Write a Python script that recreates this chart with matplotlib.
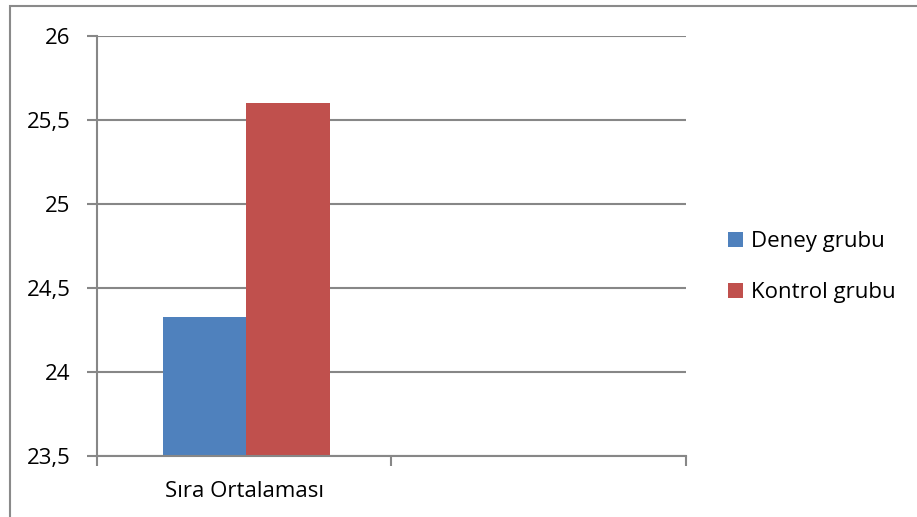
import numpy as np
import matplotlib.pyplot as plt
from matplotlib.patches import Rectangle

categories = ['Sıra Ortalaması', '']
deney = [24.33, np.nan]
kontrol = [25.60, np.nan]
series_names = ['Deney grubu', 'Kontrol grubu']
yticks = [23.5, 24, 24.5, 25, 25.5, 26]

plt.rcParams['font.family'] = ['Open Sans', 'DejaVu Sans']

fig = plt.figure(figsize=(9.17, 5.17), dpi=100)
ax = fig.add_axes([0.1058, 0.118, 0.748 - 0.1058, 0.9304 - 0.118])

grid_c = '#878787'
x = np.arange(len(categories))
w = 0.284
ax.bar(x - w / 2 + 0.007, deney, w, color='#4F81BD', label=series_names[0], zorder=3)
ax.bar(x + w / 2 + 0.007, kontrol, w, color='#C0504D', label=series_names[1], zorder=3)

ax.set_ylim(23.5, 26)
ax.set_yticks(yticks)
ax.set_yticklabels([str(v).replace('.', ',').replace(',0', '') for v in yticks], fontsize=16)
ax.set_xlim(-0.5, 1.5)
ax.set_xticks([-0.5, 0.5, 1.5])
ax.set_xticklabels([])
ax.set_xticks(x, minor=True)
ax.set_xticklabels(categories, minor=True, fontsize=16)
ax.tick_params(axis='x', which='minor', length=0, pad=18)
ax.tick_params(axis='x', which='major', length=7, width=1.5, color=grid_c)
ax.tick_params(axis='y', length=7, width=1.5, color=grid_c, pad=12)

ax.yaxis.grid(True, color=grid_c, lw=1.5, zorder=0)
for s in ['top', 'right']:
    ax.spines[s].set_visible(False)
for s in ['left', 'bottom']:
    ax.spines[s].set_color(grid_c)
    ax.spines[s].set_linewidth(1.5)
    ax.spines[s].set_zorder(4)

ax.legend(loc='center left', bbox_to_anchor=(1.0, 0.45), frameon=False,
          fontsize=16, handlelength=0.65, handleheight=0.65, handletextpad=0.4,
          labelspacing=1.35, borderaxespad=1.5)

fig.patches.append(Rectangle((10 / 917, -0.1), 1.2, 1 - 6 / 517 + 0.1,
                             transform=fig.transFigure, fill=False,
                             edgecolor='#8a8a8a', lw=1.5))

fig.savefig('out.png', dpi=100)
